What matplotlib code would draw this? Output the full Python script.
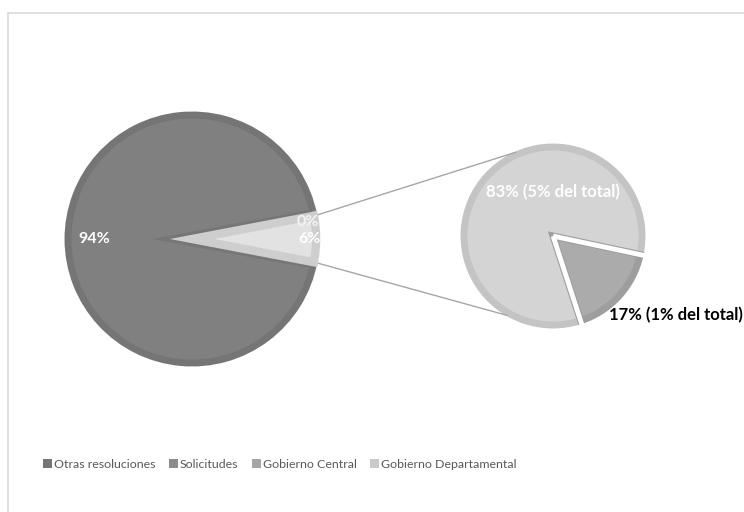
import numpy as np
import matplotlib
matplotlib.use('Agg')
import matplotlib.pyplot as plt
from matplotlib.patches import Patch, Rectangle, Polygon

plt.rcParams['font.family'] = ['Lato', 'DejaVu Sans']

# Shares of resolutions (percent of total)
main_labels = ['Otras resoluciones', 'Solicitudes']
main_values = [93.8, 0.2]
sub_labels = ['Gobierno Departamental', 'Gobierno Central']
sub_values = [5.0, 1.0]
legend_labels = ['Otras resoluciones', 'Solicitudes', 'Gobierno Central', 'Gobierno Departamental']
legend_colors = ['#767676', '#8c8c8c', '#a5a5a5', '#c9c9c9']

other_total = sum(sub_values)
pie_values = main_values + [other_total]

fig = plt.figure(figsize=(7.44, 5.12), dpi=100)
ax = fig.add_axes([0, 0, 1, 1])

# Chart frame
fig.patches.append(Rectangle((8 / 744, -0.1), 1.2, (512 - 13) / 512 + 0.1,
                             transform=fig.transFigure, fill=False,
                             edgecolor='#d9d9d9', linewidth=1.2))

# Main pie (pixel coordinates, y up)
c1 = (192, 273)
r1 = 124
other_half = other_total / sum(pie_values) * 180
wedges1, _ = ax.pie(pie_values, center=c1, radius=r1, counterclock=False,
                    startangle=-other_half, explode=[0, 0, 0.09],
                    colors=['#808080', '#8c8c8c', '#e2e2e2'],
                    wedgeprops=dict(linewidth=0))
edge_cols = ['#757575', '#8c8c8c', '#cecece']
for w, ec in zip(wedges1, edge_cols):
    w.set_edgecolor(ec)
    w.set_linewidth(5)
    w.set_joinstyle('miter')
wedges1[2].set_linewidth(6)
wedges1[2].set_zorder(4)

# darker border band of the big slice running into the notch
w = wedges1[2]
a_up, a_dn = np.deg2rad(w.theta2 + 3), np.deg2rad(w.theta1 - 3)
notch = Polygon([(c1[0] - 40, c1[1]),
                 (c1[0] + r1 * np.cos(a_up), c1[1] + r1 * np.sin(a_up)),
                 (c1[0] + r1 * np.cos(a_dn), c1[1] + r1 * np.sin(a_dn))],
                closed=True, facecolor='#767676', edgecolor='none', zorder=2)
ax.add_patch(notch)

# white outline of the small slice
cx, cy = w.center
for t in np.deg2rad([w.theta1, w.theta2]):
    ax.plot([c1[0], cx + (w.r + 3) * np.cos(t)], [c1[1], cy + (w.r + 3) * np.sin(t)],
            color='white', lw=2, solid_capstyle='butt', zorder=3)

def slice_label(w, text, frac, angle=None, **kw):
    a = np.deg2rad(angle if angle is not None else (w.theta1 + w.theta2) / 2)
    ax.text(c1[0] + frac * w.r * np.cos(a), c1[1] + frac * w.r * np.sin(a), text,
            ha='center', va='center', fontweight='bold', fontsize=11.5,
            zorder=5, **kw)

pcts = [v / sum(pie_values) * 100 for v in pie_values]
slice_label(wedges1[0], f'{pcts[0]:.0f}%', 0.79, angle=180, color='white')
slice_label(wedges1[1], f'{pcts[1]:.0f}%', 0.945, angle=8.5, color='#f4f4f4')
slice_label(wedges1[2], f'{pcts[2]:.0f}%', 0.945, angle=0, color='white')

# Secondary pie breaking down the 6%
c2 = (553, 276)
r2 = 89
wedges2, _ = ax.pie(sub_values, center=c2, radius=r2, counterclock=True,
                    startangle=-12, explode=[0, 0.16],
                    colors=['#d4d4d4', '#ababab'],
                    wedgeprops=dict(linewidth=0))
for w, ec in zip(wedges2, ['#c4c4c4', '#9e9e9e']):
    w.set_edgecolor(ec)
    w.set_linewidth(5)
    w.set_joinstyle('miter')
# white gap around the exploded slice
w = wedges2[1]
cx, cy = w.center
for t in np.deg2rad([w.theta1, w.theta2]):
    ax.plot([cx, cx + (w.r + 4) * np.cos(t)], [cy, cy + (w.r + 4) * np.sin(t)],
            color='white', lw=3.5, solid_capstyle='butt', zorder=3)

sub_pcts = [v / other_total * 100 for v in sub_values]
ax.text(c2[0], c2[1] + 0.49 * r2,
        f'{sub_pcts[0]:.0f}% ({sub_values[0]:.0f}% del total)',
        ha='center', va='center', color='white', fontweight='bold', fontsize=12)
ax.text(c2[0] + 1.38 * r2, c2[1] - 0.89 * r2,
        f'{sub_pcts[1]:.0f}% ({sub_values[1]:.0f}% del total)',
        ha='center', va='center', color='black', fontweight='bold', fontsize=12)

# Connector lines from the small slice to the secondary pie
w = wedges1[2]
cx, cy = w.center
for t_main, t_sub in [(w.theta2, 114), (w.theta1, 240)]:
    a = np.deg2rad(t_main)
    b = np.deg2rad(t_sub)
    ax.plot([cx + (w.r + 2) * np.cos(a), c2[0] + 1.03 * r2 * np.cos(b)],
            [cy + (w.r + 2) * np.sin(a), c2[1] + 1.03 * r2 * np.sin(b)],
            color='#a6a6a6', lw=1, zorder=1)

ax.set_xlim(0, 744)
ax.set_ylim(0, 512)
ax.set_aspect('equal')
ax.axis('off')

handles = [Patch(facecolor=c, edgecolor='none') for c in legend_colors]
leg = ax.legend(handles, legend_labels, ncol=4, loc='center left',
                bbox_to_anchor=(32 / 744, (512 - 464) / 512), frameon=False,
                handlelength=0.72, handleheight=0.72, handletextpad=0.15,
                columnspacing=1.1, fontsize=8.9)
for t in leg.get_texts():
    t.set_color('#595959')

fig.savefig('out.png', dpi=100)
